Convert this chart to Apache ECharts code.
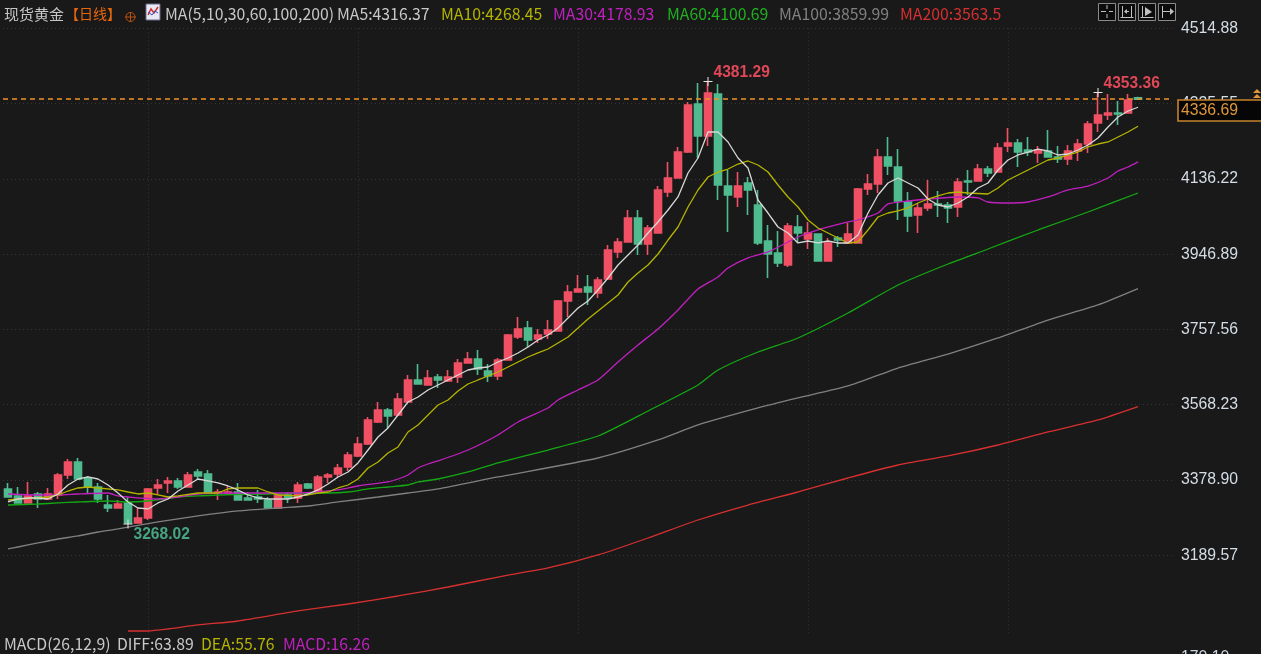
<!DOCTYPE html>
<html>
<head>
<meta charset="utf-8">
<title>现货黄金</title>
<script src="https://cdn.jsdelivr.net/npm/echarts@6/dist/echarts.min.js"></script>
<style>
html, body { margin: 0; padding: 0; background: #191919; overflow: hidden; }
#chart { width: 1261px; height: 654px; }
</style>
</head>
<body>
<div id="chart"></div>
<script>
// 日线 K 线
var opens = [
    3356.4,3338.8,3321.2,3343.8,3331.2,3341.3,3391.6,3424.3,3384.0,3361.4,
    3316.1,3308.6,3321.2,3271.0,3283.5,3358.9,3371.5,3376.5,3361.4,3399.1,
    3394.1,3346.3,3346.3,3348.8,3333.7,3336.2,3328.7,3308.6,3341.3,3333.7,
    3369.0,3348.8,3386.6,3394.1,3411.7,3439.4,3469.5,3524.9,3555.0,3542.4,
    3575.1,3630.5,3617.9,3638.0,3627.9,3638.0,3673.2,3683.3,3653.1,3640.5,
    3680.8,3738.6,3761.2,3733.5,3746.1,3753.7,3829.1,3851.7,3864.4,3849.2,
    3884.4,3952.4,3977.5,4037.8,3972.5,4000.1,4103.2,4138.4,4203.8,4324.5,
    4244.1,4349.6,4118.3,4090.7,4125.8,4070.5,3980.0,3949.8,3919.6,4015.2,
    3985.0,3997.6,3929.7,3987.5,3975.0,3975.0,4110.8,4123.3,4191.2,4166.1,
    4078.1,4045.4,4063.0,4073.1,4070.5,4065.5,4130.9,4130.9,4161.0,4153.5,
    4218.9,4226.5,4208.8,4201.3,4206.3,4191.2,4186.2,4206.3,4223.9,4276.7,
    4296.9,4301.9,4301.9,4340.0
];
var closes = [
    3336.2,3321.2,3338.8,3331.2,3343.8,3391.6,3424.3,3381.5,3361.4,3331.2,
    3308.6,3318.6,3270.9,3283.5,3356.4,3366.4,3376.5,3361.4,3391.6,3389.1,
    3346.3,3348.8,3348.8,3328.7,3328.7,3331.2,3308.6,3341.3,3333.7,3366.4,
    3358.9,3386.6,3391.6,3409.2,3441.9,3469.5,3529.9,3555.0,3539.9,3582.7,
    3630.5,3620.4,3635.5,3630.5,3638.0,3673.2,3683.3,3658.1,3640.5,3680.8,
    3743.6,3758.7,3731.0,3743.6,3756.2,3829.1,3851.7,3859.3,3851.7,3881.9,
    3957.4,3977.5,4037.8,3972.5,4012.7,4108.3,4138.4,4203.8,4322.0,4244.1,
    4352.2,4120.8,4095.7,4118.3,4108.3,3975.0,3947.3,3924.7,4017.7,4000.1,
    4000.1,3929.7,3975.0,3982.5,3997.6,4110.8,4123.3,4191.2,4168.6,4080.6,
    4042.9,4063.0,4073.1,4070.5,4063.0,4128.3,4128.3,4161.0,4151.0,4213.9,
    4226.5,4203.8,4203.8,4208.8,4191.2,4186.2,4206.3,4223.9,4274.2,4296.9,
    4301.9,4299.4,4334.6,4336.69
];
var lows = [
    3336.2,3321.2,3321.2,3308.6,3328.7,3331.2,3381.5,3381.5,3346.3,3321.2,
    3298.5,3308.6,3268.02,3270.0,3278.4,3343.8,3346.3,3356.4,3361.4,3381.5,
    3346.3,3328.7,3346.3,3328.7,3328.7,3321.2,3308.6,3308.6,3321.2,3321.2,
    3356.4,3348.8,3371.5,3386.6,3401.6,3436.8,3467.0,3522.4,3509.8,3539.9,
    3575.1,3620.4,3617.9,3610.3,3625.4,3622.9,3673.2,3643.0,3625.4,3630.5,
    3680.8,3733.5,3713.4,3723.5,3733.5,3753.7,3788.9,3851.7,3819.1,3836.6,
    3884.4,3937.3,3977.5,3944.8,3944.8,4000.1,4090.7,4138.4,4201.3,4188.7,
    4218.9,4083.1,4002.6,4065.5,4045.4,3970.0,3887.0,3914.6,3914.6,3975.0,
    3959.9,3929.7,3929.7,3964.9,3975.0,3975.0,4095.7,4100.7,4146.0,4032.8,
    4002.6,4000.1,4055.5,4040.4,4025.3,4040.4,4095.7,4130.9,4140.9,4153.5,
    4203.8,4166.1,4193.7,4176.1,4191.2,4176.1,4171.1,4181.2,4201.3,4254.1,
    4284.3,4271.7,4301.9,4335.0
];
var highs = [
    3371.5,3361.4,3374.0,3348.8,3358.9,3396.6,3431.8,3434.3,3389.1,3371.5,
    3341.3,3328.7,3336.2,3308.6,3358.9,3381.5,3386.6,3384.0,3399.1,3406.6,
    3404.1,3356.4,3363.9,3371.5,3348.8,3353.9,3336.2,3341.3,3348.8,3374.0,
    3371.5,3391.6,3396.6,3419.2,3449.4,3487.1,3537.4,3575.1,3560.1,3597.8,
    3643.0,3670.7,3655.6,3645.6,3655.6,3683.3,3700.9,3705.9,3670.7,3685.8,
    3746.1,3788.9,3778.8,3758.7,3781.3,3831.6,3869.4,3894.5,3894.5,3889.5,
    3970.0,3987.5,4058.0,4058.0,4020.2,4118.3,4178.6,4216.4,4329.6,4377.3,
    4381.29,4374.8,4158.5,4153.5,4140.9,4108.3,4020.2,4005.1,4025.3,4045.4,
    4027.8,3997.6,3987.5,3992.6,4025.3,4113.3,4148.5,4211.3,4241.5,4211.3,
    4103.2,4075.6,4133.4,4105.7,4078.1,4138.4,4158.5,4173.6,4168.6,4226.5,
    4264.2,4236.5,4241.5,4218.9,4259.1,4218.9,4221.4,4236.5,4281.8,4353.36,
    4349.6,4332.1,4349.6,4343.0
];

// 均线，读图得到，[序号, 价格]
var ma5 = [
    3323.7,3331.2,3333.7,3333.7,3331.2,3343.8,3366.4,3381.5,3386.6,3381.5,
    3366.4,3346.3,3323.7,3308.6,3306.1,3321.2,3331.2,3351.3,3366.4,3381.5,
    3376.5,3371.5,3363.9,3353.9,3341.3,3333.7,3331.2,3331.2,3331.2,3336.2,
    3343.8,3353.9,3369.0,3386.6,3399.1,3421.8,3454.4,3487.1,3509.8,3542.4,
    3575.1,3587.7,3605.3,3617.9,3630.5,3643.0,3655.6,3660.6,3663.1,3675.7,
    3685.8,3698.4,3713.4,3731.0,3743.6,3761.2,3786.4,3811.5,3829.1,3856.8,
    3887.0,3919.6,3944.8,3970.0,4000.1,4027.8,4058.0,4090.7,4151.0,4188.7,
    4254.1,4254.1,4229.0,4188.7,4163.6,4083.1,4050.4,4015.2,4000.1,3975.0,
    3980.0,3975.0,3980.0,3975.0,3975.0,3995.1,4050.4,4095.7,4125.8,4138.4,
    4125.8,4113.3,4085.6,4070.5,4065.5,4075.6,4090.7,4113.3,4125.8,4158.5,
    4183.7,4196.3,4203.8,4211.3,4206.3,4196.3,4198.8,4208.8,4221.4,4239.0,
    4266.7,4291.8,4306.9,4316.37
];
var ma10 = [
    [0,3328.7],[1,3331.2],[4,3336.2],[5,3341.3],[6,3351.3],[7,3358.9],[8,3361.4],[9,3358.9],
    [11,3353.9],[12,3348.8],[13,3343.8],[14,3346.3],[15,3341.3],[16,3336.2],[17,3338.8],[19,3346.3],
    [21,3346.3],[22,3356.4],[23,3358.9],[25,3358.9],[26,3348.8],[27,3341.3],[29,3338.8],[30,3341.3],
    [31,3346.3],[32,3348.8],[33,3358.9],[34,3366.4],[35,3381.5],[36,3409.2],[37,3424.3],[38,3447.0],
    [39,3462.1],[40,3499.7],[41,3517.4],[42,3542.4],[43,3567.6],[44,3580.2],[45,3602.8],[46,3620.4],
    [47,3630.5],[48,3640.5],[49,3650.6],[50,3663.1],[51,3675.7],[52,3688.3],[53,3698.4],[54,3708.4],
    [55,3723.5],[56,3738.6],[57,3761.2],[58,3783.9],[59,3803.9],[60,3824.1],[61,3844.2],[62,3876.9],
    [63,3899.5],[64,3919.6],[65,3947.3],[66,3982.5],[67,4015.2],[68,4065.5],[69,4108.3],[70,4140.9],
    [71,4153.5],[72,4161.0],[73,4173.6],[74,4181.2],[75,4171.1],[76,4153.5],[77,4120.8],[78,4090.7],
    [79,4065.5],[80,4032.8],[81,4012.7],[82,4000.1],[83,3987.5],[84,3975.0],[85,3977.5],[86,4007.7],
    [87,4040.4],[88,4050.4],[89,4055.5],[90,4063.0],[91,4075.6],[92,4085.6],[93,4093.2],[94,4100.7],
    [95,4103.2],[96,4100.7],[98,4098.2],[99,4113.3],[100,4133.4],[101,4146.0],[102,4158.5],[103,4171.1],
    [104,4183.7],[105,4188.7],[106,4196.3],[107,4203.8],[108,4216.4],[109,4223.9],[110,4229.0],
    [111,4241.5],[112,4254.1],[113,4268.45]
];
var ma30 = [
    [0,3343.8],[3,3341.3],[5,3341.3],[7,3343.8],[10,3346.3],[11,3338.8],[12,3336.2],[15,3331.2],
    [17,3336.2],[19,3343.8],[22,3346.3],[26,3346.3],[29,3346.3],[33,3353.9],[35,3363.9],[38,3374.0],
    [39,3381.5],[40,3391.6],[41,3409.2],[42,3419.2],[43,3426.8],[46,3454.4],[49,3492.2],[51,3524.9],
    [54,3560.1],[55,3580.2],[57,3605.3],[59,3630.5],[61,3675.7],[63,3718.5],[65,3758.7],[67,3806.5],
    [69,3859.3],[71,3889.5],[72,3912.1],[74,3937.3],[76,3952.4],[78,3977.5],[79,3990.1],[81,4007.7],
    [84,4027.8],[85,4032.8],[87,4050.4],[88,4073.1],[90,4080.6],[92,4085.6],[95,4090.7],[97,4088.2],
    [98,4078.1],[100,4075.6],[102,4078.1],[104,4090.7],[106,4108.3],[108,4118.3],[110,4138.4],
    [111,4156.0],[112,4166.1],[113,4178.93]
];
var ma60 = [
    [0,3316.1],[3,3318.6],[5,3321.2],[7,3323.7],[10,3326.2],[12,3323.7],[14,3326.2],[17,3336.2],
    [19,3338.8],[21,3341.3],[26,3343.8],[29,3346.3],[32,3346.3],[34,3348.8],[36,3356.4],[38,3361.4],
    [40,3366.4],[41,3374.0],[43,3381.5],[46,3399.1],[49,3421.8],[54,3454.4],[59,3489.6],[64,3552.5],
    [69,3617.9],[71,3655.6],[75,3700.9],[79,3736.1],[84,3798.9],[89,3869.4],[94,3922.2],[98,3959.9],
    [103,4007.7],[108,4052.9],[113,4100.69]
];
var ma100 = [
    [0,3205.5],[1,3210.5],[3,3220.6],[5,3230.6],[7,3238.2],[9,3248.2],[11,3255.8],[15,3273.4],
    [19,3288.5],[23,3301.1],[27,3308.6],[30,3313.6],[33,3323.7],[37,3336.2],[40,3346.3],[43,3356.4],
    [49,3386.6],[59,3434.3],[65,3479.6],[69,3517.4],[75,3560.1],[79,3585.2],[84,3615.4],[89,3660.6],
    [94,3695.8],[99,3736.1],[104,3781.3],[109,3819.1],[113,3859.99]
];
var ma200 = [
    [12,2999.3],[14,2999.3],[16,3004.3],[19,3014.4],[23,3024.4],[29,3049.6],[34,3067.1],[39,3087.3],
    [44,3109.9],[49,3135.0],[54,3157.7],[59,3190.4],[64,3233.1],[69,3278.4],[74,3316.1],[79,3348.8],
    [84,3384.0],[89,3416.7],[94,3439.4],[99,3467.0],[104,3499.7],[109,3529.9],[113,3563.5]
];

// 坐标与标注
var priceTicks = [3189.57, 3378.90, 3568.23, 3757.56, 3946.89, 4136.22, 4325.55, 4514.88];
var monthStarts = [14, 35, 57, 80, 100];
var lastPrice = 4336.69;
var highMarks = [[70, 4381.29], [109, 4353.36]];
var lowMarks = [[12, 3268.02]];
var macdTick = '170.10';

var titleTexts = [
    ['MA(5,10,30,60,100,200)', 165, '#c8c8c8'],
    ['MA5:4316.37', 337, '#c8c8c8'],
    ['MA10:4268.45', 441, '#b4b400'],
    ['MA30:4178.93', 553, '#c020c0'],
    ['MA60:4100.69', 667, '#20b020'],
    ['MA100:3859.99', 779, '#808080'],
    ['MA200:3563.5', 900, '#d63030']
];
var macdTexts = [
    ['MACD(26,12,9)', 4, '#c8c8c8'],
    ['DIFF:63.89', 117, '#c8c8c8'],
    ['DEA:55.76', 201, '#b4b400'],
    ['MACD:16.26', 283, '#c020c0']
];

var RED = '#ef5064';
var GREEN = '#4fbb8e';
var ORANGE = '#f0922a';
var FONT = '"Noto Sans CJK SC", "Liberation Sans", sans-serif';
var NUM_FONT = '"Liberation Sans", sans-serif';

function maLine(name, data, color, z, smooth) {
    return {
        name: name,
        type: 'line',
        data: data,
        showSymbol: false,
        symbol: 'none',
        smooth: smooth,
        silent: true,
        animation: false,
        z: z,
        lineStyle: { color: color, width: 1.3 }
    };
}

function markSeries(data, color, offsetY) {
    return {
        type: 'scatter',
        data: data,
        symbol: 'path://M4 0h1v4h4v1h-4v4h-1v-4h-4v-1h4z',
        symbolSize: 9,
        silent: true,
        animation: false,
        z: 12,
        itemStyle: { color: '#e8e8e8', opacity: 1 },
        label: {
            show: true,
            position: 'right',
            distance: 1,
            offset: [0, offsetY],
            color: color,
            fontFamily: NUM_FONT,
            fontSize: 15.6,
            fontWeight: 'bold',
            formatter: function (p) { return p.value[1].toFixed(2); }
        }
    };
}

function toolButton(x, lines) {
    var children = [{
        type: 'rect',
        shape: { x: x + 0.5, y: 3.5, width: 17, height: 17 },
        style: { fill: '#0c0c0c', stroke: '#8a8a8a', lineWidth: 1 }
    }];
    lines.forEach(function (l) {
        children.push({
            type: 'line',
            shape: { x1: x + l[0], y1: l[1], x2: x + l[2], y2: l[3] },
            style: { stroke: '#c0c0c0', lineWidth: 1 }
        });
    });
    return { type: 'group', children: children };
}

function buildGraphics() {
    var g = [];
    g.push({ type: 'text', z: 20, style: { text: '现货黄金', x: 4, y: 14, fill: '#c8c8c8', font: '15px ' + FONT, verticalAlign: 'middle' } });
    g.push({ type: 'text', z: 20, style: { text: '【日线】', x: 65, y: 14, fill: '#e8670c', font: '14px ' + FONT, verticalAlign: 'middle' } });
    titleTexts.forEach(function (t) {
        g.push({ type: 'text', z: 20, style: { text: t[0], x: t[1], y: 14, fill: t[2], font: '15.8px ' + FONT, verticalAlign: 'middle' } });
    });
    macdTexts.forEach(function (t) {
        g.push({ type: 'text', z: 20, style: { text: t[0], x: t[1], y: 644, fill: t[2], font: '15.8px ' + FONT, verticalAlign: 'middle' } });
    });
    // 周期旁的小图标
    g.push({ type: 'circle', z: 20, shape: { cx: 130.5, cy: 17, r: 4.5 }, style: { fill: 'none', stroke: '#b8500f', lineWidth: 1 } });
    g.push({ type: 'line', z: 20, shape: { x1: 125, y1: 17, x2: 136, y2: 17 }, style: { stroke: '#b8500f', lineWidth: 1 } });
    g.push({ type: 'line', z: 20, shape: { x1: 130.5, y1: 12, x2: 130.5, y2: 22 }, style: { stroke: '#b8500f', lineWidth: 1 } });
    g.push({ type: 'rect', z: 20, shape: { x: 146, y: 4, width: 14, height: 16 }, style: { fill: '#e8e8f4', stroke: '#6a6a90', lineWidth: 1 } });
    g.push({ type: 'polyline', z: 21, shape: { points: [[148, 15], [151, 9], [154, 13], [158, 7]] }, style: { fill: 'none', stroke: '#d03030', lineWidth: 1.5 } });
    g.push({ type: 'polyline', z: 21, shape: { points: [[148, 12], [152, 15], [155, 11], [158, 13]] }, style: { fill: 'none', stroke: '#3050c0', lineWidth: 1 } });
    // 右上角工具按钮
    g.push(toolButton(1098, [[3, 11.5, 7, 11.5], [11, 11.5, 15, 11.5], [9, 5, 9, 9], [9, 14, 9, 18], [7, 11.5, 8, 11.5]]));
    g.push(toolButton(1118, [[4.5, 6, 4.5, 18], [13.5, 6, 13.5, 18], [7, 11.5, 11, 11.5], [2.5, 17.5, 15.5, 17.5]]));
    g.push({ type: 'polygon', z: 22, shape: { points: [[1124, 11.5], [1127, 9], [1127, 14]] }, style: { fill: '#c0c0c0' } });
    g.push(toolButton(1138, [[4.5, 6, 4.5, 18], [2.5, 17.5, 15.5, 17.5]]));
    g.push({ type: 'polygon', z: 22, shape: { points: [[1145, 7], [1152, 12], [1145, 16]] }, style: { fill: '#c0c0c0' } });
    g.push(toolButton(1158, [[4.5, 6, 4.5, 18], [4.5, 11.5, 13, 11.5]]));
    g.push({ type: 'polygon', z: 22, shape: { points: [[1170, 8], [1174, 11.5], [1170, 15]] }, style: { fill: '#c0c0c0' } });
    // 现价框
    g.push({ type: 'rect', z: 30, shape: { x: 1178, y: 100, width: 84, height: 21 }, style: { fill: '#060606', stroke: '#c8822c', lineWidth: 1.6 } });
    g.push({ type: 'text', z: 31, style: { text: lastPrice.toFixed(2), x: 1181, y: 110.5, fill: '#e0963a', font: '15.8px ' + NUM_FONT, verticalAlign: 'middle' } });
    g.push({ type: 'polygon', z: 31, shape: { points: [[1253, 93], [1257, 89], [1261, 93]] }, style: { fill: '#e0963a' } });
    g.push({ type: 'polygon', z: 31, shape: { points: [[1253, 98], [1257, 94], [1261, 98]] }, style: { fill: '#e0963a' } });
    // 下方副图坐标，只露出上半截
    g.push({ type: 'text', z: 20, style: { text: macdTick, x: 1181, y: 658, fill: '#c8d4e0', font: '15.8px ' + NUM_FONT, verticalAlign: 'middle' } });
    return g;
}

function showChart() {
    var categories = [];
    for (var i = 0; i < 117; i++) {
        categories.push(String(i));
    }
    var candles = opens.map(function (o, k) {
        return [o, closes[k], lows[k], highs[k]];
    });
    var monthLines = monthStarts.map(function (idx) {
        return [{ xAxis: idx, yAxis: 4514.88 }, { xAxis: idx, yAxis: 2992 }];
    });

    var option = {
        backgroundColor: '#191919',
        animation: false,
        grid: { left: 3, top: 0, width: 1170, height: 634 },
        xAxis: {
            type: 'category',
            data: categories,
            boundaryGap: true,
            axisLine: { show: false },
            axisTick: { show: false },
            axisLabel: { show: false },
            splitLine: { show: false }
        },
        yAxis: {
            type: 'value',
            position: 'right',
            min: 2991.7,
            max: 4586.05,
            axisLine: { show: false },
            axisTick: { show: false, customValues: priceTicks },
            axisLabel: {
                customValues: priceTicks,
                color: '#d4dde6',
                fontFamily: NUM_FONT,
                fontSize: 15.8,
                margin: 8,
                padding: [0, 0, 3, 0],
                formatter: function (v) { return v.toFixed(2); }
            },
            splitLine: { show: true, lineStyle: { color: '#363636', type: [1, 3], width: 1 } }
        },
        graphic: buildGraphics(),
        series: [
            {
                // 月份分隔线，放在 K 线下面
                type: 'line',
                data: [],
                silent: true,
                z: 1,
                markLine: {
                    silent: true,
                    symbol: 'none',
                    animation: false,
                    z: 1,
                    label: { show: false },
                    lineStyle: { color: '#363636', type: [1, 3], width: 1 },
                    data: monthLines
                }
            },
            {
                name: 'K',
                type: 'candlestick',
                data: candles,
                barWidth: 7.5,
                silent: true,
                animation: false,
                z: 3,
                itemStyle: {
                    color: RED,
                    color0: GREEN,
                    borderColor: RED,
                    borderColor0: GREEN,
                    borderWidth: 1.6
                },
                markLine: {
                    silent: true,
                    symbol: 'none',
                    animation: false,
                    z: 4,
                    label: { show: false },
                    data: [{
                        yAxis: lastPrice,
                        lineStyle: { color: ORANGE, type: [5, 4], width: 1.6, opacity: 1 }
                    }]
                }
            },
            maLine('MA200', ma200, '#d63030', 5, 0.2),
            maLine('MA100', ma100, '#808080', 6, 0.2),
            maLine('MA60', ma60, '#14a814', 7, 0.2),
            maLine('MA30', ma30, '#c020c0', 8, 0.2),
            maLine('MA10', ma10, '#b4b400', 9, false),
            maLine('MA5', ma5, '#d8d8d8', 10, false),
            markSeries(highMarks, '#e04858', -9),
            markSeries(lowMarks, '#46a583', 11)
        ]
    };
    var chart = echarts.init(document.getElementById('chart'));
    chart.setOption(option);
}
showChart();
</script>
</body>
</html>
